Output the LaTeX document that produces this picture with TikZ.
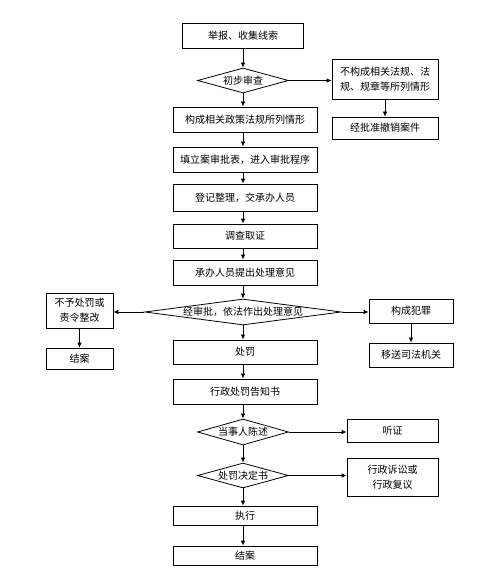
\documentclass[tikz,border=0pt]{standalone}
\usepackage{fontspec}
\setmainfont{Noto Sans CJK SC}
\usepackage{tikz}
\usetikzlibrary{arrows.meta,shapes.geometric}

\begin{document}
\begin{tikzpicture}[x=1pt,y=-1pt,line width=0.8pt,
    >={Latex[length=5pt,width=4.5pt]},
    box/.style={rectangle,draw,inner sep=0pt,align=center,font=\fontsize{10}{15}\selectfont},
    choice/.style={diamond,draw,inner sep=0pt,aspect=4,font=\fontsize{10}{15}\selectfont}]
\useasboundingbox (0,0) rectangle (500,583);
\node (report)  at (243,35.5)  [box,minimum width=121,minimum height=25] {举报、收集线索};
\node (check)   at (243,80.5)  [choice,minimum width=91,minimum height=25] {初步审查};
\node (notcase) at (385,79)    [box,minimum width=106,minimum height=40] {不构成相关法规、法\\规、规章等所列情形};
\node (revoke)  at (385,128)   [box,minimum width=106,minimum height=22] {经批准撤销案件};
\node (iscase)  at (245,119.5) [box,minimum width=144,minimum height=25] {构成相关政策法规所列情形};
\node (file)    at (245,159.5) [box,minimum width=144,minimum height=25] {填立案审批表，进入审批程序};
\node (assign)  at (245,197.5) [box,minimum width=144,minimum height=27] {登记整理，交承办人员};
\node (probe)   at (245,236)   [box,minimum width=144,minimum height=24] {调查取证};
\node (opinion) at (245,272.5) [box,minimum width=144,minimum height=25] {承办人员提出处理意见};
\node (approve) at (243,312)   [choice,aspect=8,minimum width=196,minimum height=26] {经审批，依法作出处理意见};
\node (nopen)   at (79.5,310.5) [box,minimum width=67,minimum height=35] {不予处罚或\\责令整改};
\node (closeA)  at (79.5,358.5) [box,minimum width=67,minimum height=21] {结案};
\node (crime)   at (411,311)   [box,minimum width=84,minimum height=24] {构成犯罪};
\node (transfer) at (411,355)  [box,minimum width=84,minimum height=24] {移送司法机关};
\node (punish)  at (245,352)   [box,minimum width=144,minimum height=24] {处罚};
\node (notice)  at (245,391.5) [box,minimum width=144,minimum height=25] {行政处罚告知书};
\node (state)   at (243,432)   [choice,minimum width=91,minimum height=26] {当事人陈述};
\node (hearing) at (392.5,430.5) [box,minimum width=91,minimum height=23] {听证};
\node (decide)  at (243,475.5) [choice,minimum width=91,minimum height=25] {处罚决定书};
\node (appeal)  at (392.5,477) [box,minimum width=91,minimum height=38] {行政诉讼或\\行政复议};
\node (execute) at (245,515.5) [box,minimum width=144,minimum height=19] {执行};
\node (closeB)  at (245,555.5) [box,minimum width=144,minimum height=19] {结案};
% main column
\draw [->] (report)  to (check);
\draw [->] (check)   to (check.south |- iscase.north);
\draw [->] (iscase.south -| report)  to (file.north -| report);
\draw [->] (file.south -| report)    to (assign.north -| report);
\draw [->] (assign.south -| report)  to (probe.north -| report);
\draw [->] (probe.south -| report)   to (opinion.north -| report);
\draw [->] (opinion.south -| report) to (approve);
\draw [->] (approve) to (approve.south |- punish.north);
\draw [->] (punish.south -| report)  to (notice.north -| report);
\draw [->] (notice.south -| report)  to (state);
\draw [->] (state)   to (decide);
\draw [->] (decide)  to (decide.south |- execute.north);
\draw [->] (execute.south -| report) to (closeB.north -| report);
% side branches
\draw [->] (check.east)   to (check.east -| notcase.west);
\draw [->] (notcase)      to (revoke);
\draw [->] (approve.west) to (approve.west -| nopen.east);
\draw [->] (nopen)        to (closeA);
\draw [->] (approve.east) to (approve.east -| crime.west);
\draw [->] (crime)        to (transfer);
\draw [->] (state.east)   to (state.east -| hearing.west);
\draw [->] (decide.east)  to (decide.east -| appeal.west);
\end{tikzpicture}
\end{document}
